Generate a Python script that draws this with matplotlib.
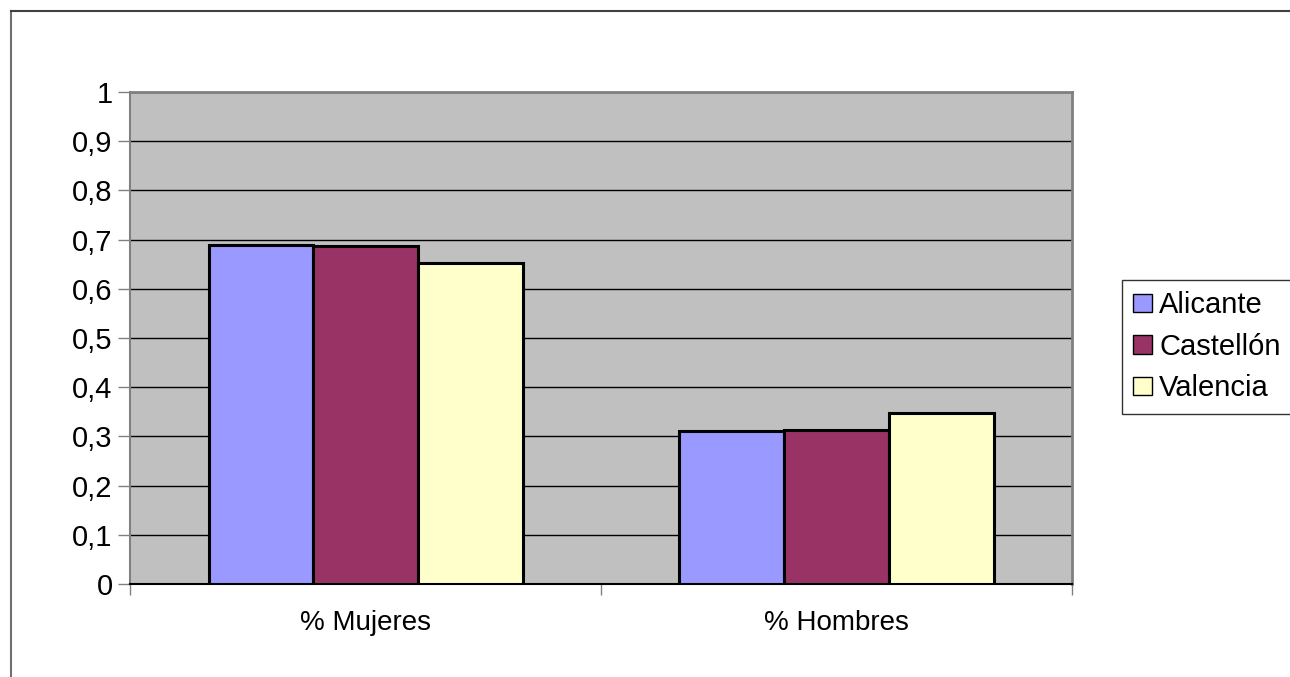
import numpy as np
import matplotlib
matplotlib.use("Agg")
import matplotlib.pyplot as plt
from matplotlib.lines import Line2D
from matplotlib.ticker import FuncFormatter

plt.rcParams['font.family'] = ['Liberation Sans', 'DejaVu Sans']

categories = ["% Mujeres", "% Hombres"]
series = ["Alicante", "Castellón", "Valencia"]
values = {
    "Alicante": [0.690, 0.310],
    "Castellón": [0.688, 0.312],
    "Valencia": [0.653, 0.347],
}
colors = {"Alicante": "#9999FF", "Castellón": "#993366", "Valencia": "#FFFFCC"}

W, H = 1290, 677
fs = 21
fig = plt.figure(figsize=(W / 100, H / 100), dpi=100)
ax = fig.add_axes([130 / W, 1 - 584 / H, 942 / W, 492 / H])
ax.set_facecolor("#C0C0C0")

# excel style: gap width 150%
bw = 1 / (len(series) + 1.5)
x = np.arange(len(categories)) + 0.5
for i, s in enumerate(series):
    off = (i - (len(series) - 1) / 2) * bw
    ax.bar(x + off, values[s], bw, color=colors[s], edgecolor="black",
           linewidth=2.2, label=s, zorder=3)

ax.set_xlim(0, len(categories))
ax.set_ylim(0, 1)
ax.set_yticks(np.arange(0, 1.01, 0.1))
ax.yaxis.set_major_formatter(FuncFormatter(lambda v, p: ("%g" % round(v, 1)).replace(".", ",")))
ax.set_xticks(x)
ax.set_xticklabels(categories)
ax.set_xticks(np.arange(len(categories) + 1), minor=True)
ax.tick_params(axis="x", which="major", length=0, labelsize=20, pad=19)
ax.tick_params(axis="x", which="minor", length=8, color="#808080", width=1)
ax.tick_params(axis="y", length=8.5, color="#808080", width=1, labelsize=fs, pad=4)
ax.grid(axis="y", color="black", linewidth=1, zorder=1)
ax.set_axisbelow(True)

for side in ["top", "right"]:
    ax.spines[side].set_color("#808080")
    ax.spines[side].set_linewidth(2)
ax.spines["left"].set_color("#808080")
ax.spines["bottom"].set_color("black")
ax.spines["left"].set_linewidth(1.5)
ax.spines["bottom"].set_linewidth(1.5)

leg = fig.legend(loc="upper left", bbox_to_anchor=(1122 / W, 1 - 280 / H),
                 frameon=True, fancybox=False, fontsize=fs,
                 handlelength=0.65, handleheight=0.6, handletextpad=0.24,
                 labelspacing=0.47, borderpad=0.38, borderaxespad=0)
leg.get_frame().set_edgecolor("black")
leg.get_frame().set_linewidth(1)
for h in leg.legend_handles:
    h.set_linewidth(1)

# outer chart border (left and top edges visible)
fig.add_artist(Line2D([11 / W, 11 / W], [0, 1 - 11 / H], color="#707070", linewidth=1.5))
fig.add_artist(Line2D([11 / W, 1], [1 - 11 / H, 1 - 11 / H], color="#404040", linewidth=1.5))

fig.savefig("out.png", dpi=100)
